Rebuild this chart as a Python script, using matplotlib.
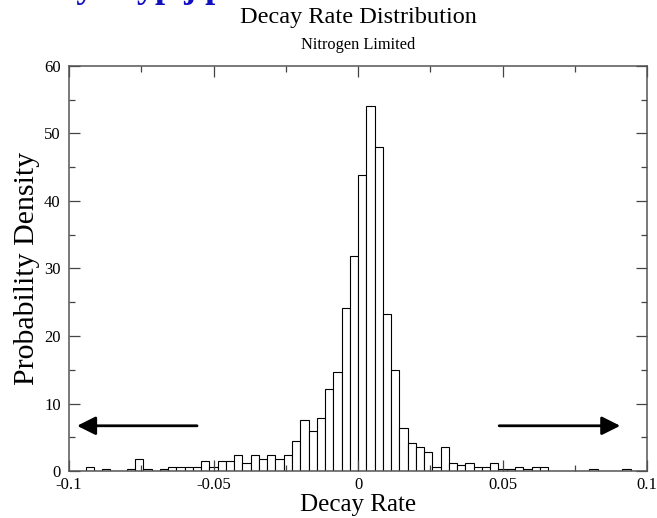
import numpy as np
import matplotlib
matplotlib.use("Agg")
import matplotlib.pyplot as plt

plt.rcParams["font.family"] = ["Liberation Serif", "DejaVu Serif"]

# 70 equal bins over [-0.1, 0.1]; probability density per bin
bin_lo, bin_hi, n_bins = -0.1, 0.1, 70
density = [
    0, 0,
    0.58, 0, 0.29, 0, 0, 0.29, 1.74, 0.29, 0, 0.29,
    0.58, 0.58, 0.58, 0.58, 1.45, 0.58, 1.45, 1.45, 2.32, 1.16,
    2.32, 1.74, 2.32, 1.74, 2.32, 4.5, 7.5, 6.0, 7.8, 12.1,
    14.6, 24.2, 31.9, 43.8, 54.0, 48.0, 23.3, 14.9, 6.3, 4.2,
    3.5, 2.8, 0.58, 3.5, 1.2, 0.87, 1.2, 0.58, 0.58, 1.2,
    0.29, 0.29, 0.58, 0.29, 0.58, 0.58, 0, 0, 0, 0,
    0, 0.29, 0, 0, 0, 0.29,
    0, 0,
]
xticks = [-0.1, -0.05, 0, 0.05, 0.1]
xticklabels = ["-0.1", "-0.05", "0", "0.05", "0.1"]
yticks = [0, 10, 20, 30, 40, 50, 60]

# arrows marking the tails
left_arrow = (-0.0557, -0.0972, 6.7)   # x_start, x_end, y
right_arrow = (0.0488, 0.0907, 6.7)

edges = np.linspace(bin_lo, bin_hi, n_bins + 1)

fig = plt.figure(figsize=(6.57, 5.18), dpi=100)
ax = fig.add_axes([0.105, 0.0907, 0.88, 0.782])

ax.bar(edges[:-1], density, width=np.diff(edges), align="edge",
       color="white", edgecolor="black", linewidth=0.8)

for xs, xe, y in (left_arrow, right_arrow):
    ax.annotate("", xy=(xe, y), xytext=(xs, y),
                arrowprops=dict(arrowstyle="-|>", color="black", lw=2.0,
                                mutation_scale=28, shrinkA=0, shrinkB=0))

ax.set_xlim(-0.1, 0.1)
ax.set_ylim(0, 60)
ax.set_xticks(xticks)
ax.set_xticklabels(xticklabels)
ax.set_xticks([-0.075, -0.025, 0.025, 0.075], minor=True)
ax.set_yticks(yticks)
ax.set_yticks([5, 15, 25, 35, 45, 55], minor=True)
ax.tick_params(which="both", direction="in", top=True, right=True,
               labelsize=12, color="#444")
ax.tick_params(which="major", length=8, width=0.9)
ax.tick_params(which="minor", length=4.5, width=0.9)
ax.tick_params(axis="x", pad=4)
ax.tick_params(axis="y", pad=6)
for s in ax.spines.values():
    s.set_color("#555")
    s.set_linewidth(1.1)

ax.set_xlabel("Decay Rate", fontsize=18, labelpad=1)
ax.set_ylabel("Probability Density", fontsize=21.5, labelpad=3)

fig.text(0.545, 0.966, "Decay Rate Distribution", ha="center", va="center",
         fontsize=17.5)
fig.text(0.545, 0.913, "Nitrogen Limited", ha="center", va="center",
         fontsize=11.8)

# cut-off blue heading from the slide above
fig.text(0.0, 1.006, "Decay r  yp j p", color="#1010c0", fontsize=26,
         fontweight="bold", ha="left", va="baseline")

fig.savefig("out.png", dpi=100)
